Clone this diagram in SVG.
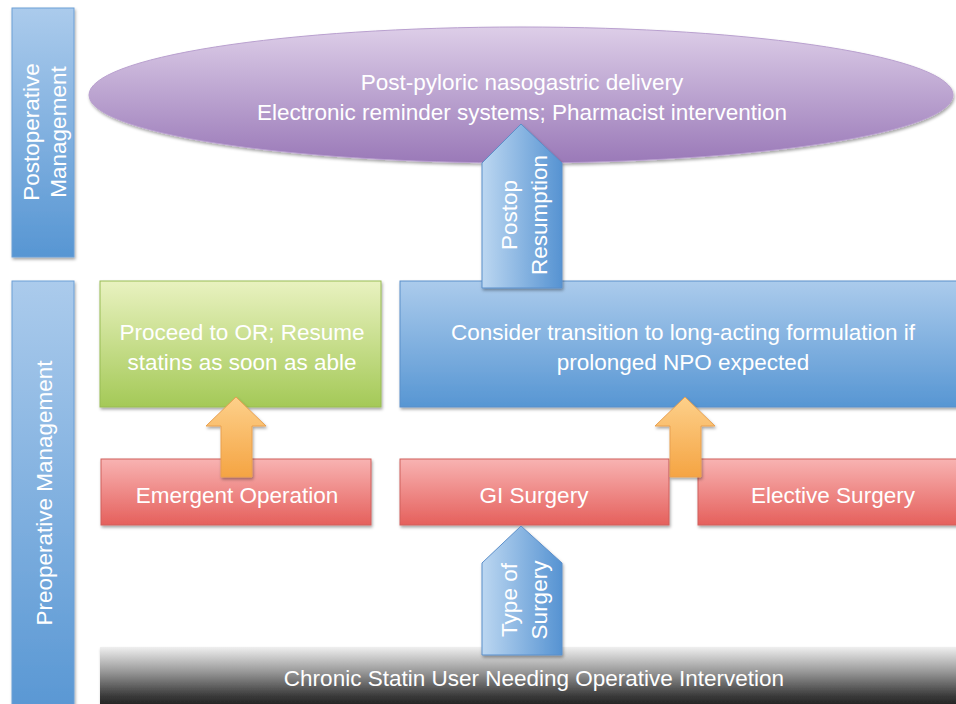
<svg xmlns="http://www.w3.org/2000/svg" width="956" height="704" viewBox="0 0 956 704">
<defs>
  <linearGradient id="gBlueV" x1="0" y1="0" x2="0" y2="1">
    <stop offset="0" stop-color="#abcbec"/>
    <stop offset="1" stop-color="#5796d3"/>
  </linearGradient>
  <linearGradient id="gBlueH" x1="0" y1="0" x2="1" y2="0">
    <stop offset="0" stop-color="#bcd7f1"/>
    <stop offset="1" stop-color="#5693d2"/>
  </linearGradient>
  <linearGradient id="gPurple" x1="0" y1="0" x2="0" y2="1">
    <stop offset="0" stop-color="#ddcee8"/>
    <stop offset="1" stop-color="#9a79b8"/>
  </linearGradient>
  <linearGradient id="gGreen" x1="0" y1="0" x2="0" y2="1">
    <stop offset="0" stop-color="#e9f2c0"/>
    <stop offset="1" stop-color="#a4c957"/>
  </linearGradient>
  <linearGradient id="gRed" x1="0" y1="0" x2="0" y2="1">
    <stop offset="0" stop-color="#f8b3b2"/>
    <stop offset="1" stop-color="#e5605c"/>
  </linearGradient>
  <linearGradient id="gOrange" x1="0" y1="0" x2="0" y2="1">
    <stop offset="0" stop-color="#fdd08a"/>
    <stop offset="1" stop-color="#f5a443"/>
  </linearGradient>
  <linearGradient id="gBlack" x1="0" y1="0" x2="0" y2="1">
    <stop offset="0" stop-color="#efefef"/>
    <stop offset="0.35" stop-color="#999999"/>
    <stop offset="0.7" stop-color="#3a3a3a"/>
    <stop offset="1" stop-color="#050505"/>
  </linearGradient>
  <filter id="sh" x="-10%" y="-10%" width="120%" height="130%">
    <feDropShadow dx="1" dy="2" stdDeviation="1.5" flood-color="#000" flood-opacity="0.35"/>
  </filter>
</defs>
<style>
  .t { font-family: "Liberation Sans", Arial, sans-serif; font-size: 22.5px; fill: #ffffff; text-anchor: middle; }
  .side { fill: url(#gBlueV); stroke: #6d9fd6; stroke-width: 1; filter: url(#sh); }
  .blue { fill: url(#gBlueV); stroke: #5b8fca; stroke-width: 1; filter: url(#sh); }
  .green { fill: url(#gGreen); stroke: #98bb55; stroke-width: 1; filter: url(#sh); }
  .red { fill: url(#gRed); stroke: #d0605c; stroke-width: 1; filter: url(#sh); }
  .purple { fill: url(#gPurple); stroke: #b9a0cf; stroke-width: 1; filter: url(#sh); }
  .black { fill: url(#gBlack); filter: url(#sh); }
  .barrow { fill: url(#gBlueH); stroke: #5b8fca; stroke-width: 1; filter: url(#sh); }
  .oarrow { fill: url(#gOrange); stroke: #e8a050; stroke-width: 1; filter: url(#sh); }
</style>
<rect width="956" height="704" fill="#ffffff"/>

<g id="postop-label">
  <rect class="side" x="12" y="8" width="62" height="249"/>
  <text class="t" transform="translate(39,132) rotate(-90)">Postoperative</text>
  <text class="t" transform="translate(66,132) rotate(-90)">Management</text>
</g>

<g id="preop-label">
  <rect class="side" x="12" y="281" width="62" height="440"/>
  <text class="t" transform="translate(52,493) rotate(-90)">Preoperative Management</text>
</g>

<g id="postop-ellipse">
  <ellipse class="purple" cx="521" cy="95" rx="432" ry="68"/>
  <text class="t" x="522" y="90">Post-pyloric nasogastric delivery</text>
  <text class="t" x="522" y="120">Electronic reminder systems; Pharmacist intervention</text>
</g>

<g id="proceed">
  <rect class="green" x="100" y="281" width="281" height="126"/>
  <text class="t" x="242" y="340">Proceed to OR; Resume</text>
  <text class="t" x="242" y="370">statins as soon as able</text>
</g>

<g id="consider">
  <rect class="blue" x="400" y="281" width="570" height="126"/>
  <text class="t" x="683" y="340">Consider transition to long-acting formulation if</text>
  <text class="t" x="683" y="370">prolonged NPO expected</text>
</g>

<g id="emergent">
  <rect class="red" x="101" y="459" width="270" height="66"/>
  <text class="t" x="237" y="503">Emergent Operation</text>
</g>

<g id="gi">
  <rect class="red" x="400" y="459" width="269" height="66"/>
  <text class="t" x="534" y="503">GI Surgery</text>
</g>

<g id="elective">
  <rect class="red" x="698" y="459" width="270" height="66"/>
  <text class="t" x="833" y="503">Elective Surgery</text>
</g>

<g id="chronic">
  <rect class="black" x="100" y="647" width="870" height="70"/>
  <text class="t" x="534" y="686">Chronic Statin User Needing Operative Intervetion</text>
</g>

<g id="connectors">
  <g id="postop-resumption">
    <polygon class="barrow" points="482,288 482,163 521,124 562,163 562,288"/>
    <text class="t" transform="translate(517,215) rotate(-90)">Postop</text>
    <text class="t" transform="translate(547,215) rotate(-90)">Resumption</text>
  </g>
  <g id="type-of-surgery">
    <polygon class="barrow" points="482,655 482,563 521,526 562,563 562,655"/>
    <text class="t" transform="translate(517,600) rotate(-90)">Type of</text>
    <text class="t" transform="translate(547,600) rotate(-90)">Surgery</text>
  </g>
  <polygon class="oarrow" points="221,477 221,426 206,426 236,397 266,426 252,426 252,477"/>
  <polygon class="oarrow" points="670,477 670,426 655,426 685,397 715,426 701,426 701,477"/>
</g>
</svg>
